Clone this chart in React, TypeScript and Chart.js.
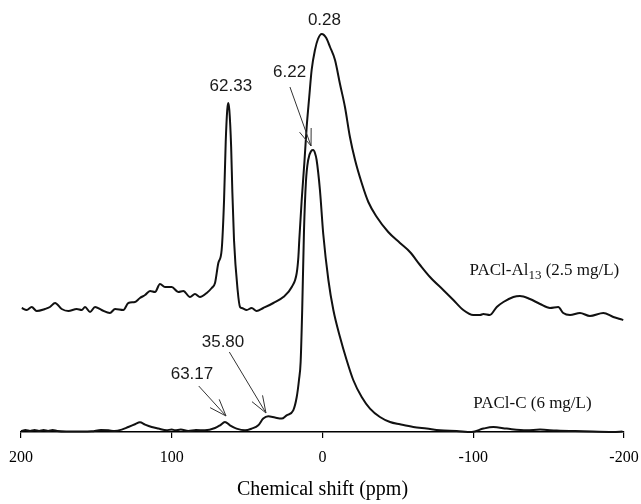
import React, { useEffect, useRef } from "react";
import { Chart, registerables } from "chart.js";

Chart.register(...registerables);

// Chemical shift (ppm) and intensity for PACl-Al13 (2.5 mg/L)
const upperPpm = [
  199.5, 196.2, 192.9, 189.6, 184.1, 180.8, 177.4, 173, 168.6, 163, 159.7, 157.5, 154.2, 150.9, 146.5, 141,
  137.6, 132.1, 128.8, 124.4, 121.1, 117.7, 114.4, 111.1, 107.8, 104.5, 100, 95.7, 92.3, 87.9, 84.6, 81.3,
  76.8, 73.5, 71.3, 69.1, 66.9, 65.3, 64.2, 63.2, 62.5, 61.8, 60.6, 59.8, 58.7, 56.3, 54.7, 53.6, 50.3, 47,
  43.7, 39.3, 32.6, 26, 20.4, 17.1, 16, 15.4, 13.8, 12, 10.5, 8.8, 7.2, 5, 3, 0.5, -2.5, -5, -8.3, -11.6,
  -14.9, -18.2, -21.6, -26, -30.4, -36, -43.6, -51.4, -58, -64.7, -71.3, -80.1, -86.8, -93.4, -100, -104.5,
  -106.7, -111, -115.6, -120, -126.6, -131, -137.6, -144.3, -150.9, -156.4, -159.7, -164.2, -170.8, -177.4,
  -186.3, -192.9, -197.4, -199.5,
];
const upperInt = [
  124, 122, 125, 121, 123, 125, 129, 123, 121, 123, 122, 125, 120, 125, 122, 119,
  123, 122, 129, 130, 134, 137, 141, 140, 148, 145, 145, 140, 141, 135, 138, 135,
  139, 144, 149, 169, 182, 232, 290, 322, 329, 322, 285, 240, 192, 142, 125, 124, 122, 124,
  121, 124, 129, 135, 145, 159, 175, 192, 232, 270, 305, 335, 362, 382, 393, 398, 394, 385, 372, 348,
  325, 295, 272, 249, 230, 215, 200, 189, 180, 167, 155, 142, 132, 122, 117, 117,
  118, 117, 125, 130, 135, 136, 133, 128, 124, 125, 119, 117, 119, 116,
  119, 115, 113, 112,
];

// Chemical shift (ppm) and intensity for PACl-C (6 mg/L)
const lowerPpm = [
  200, 197, 194, 191, 188, 185, 182, 179, 176, 170, 160, 153.1, 147, 142, 138, 133.2, 128.8, 124.4, 121.1,
  117.7, 113.3, 108.9, 103.4, 100, 97.8, 94, 89, 84, 78, 71.3, 68, 64.7, 61.4, 57, 51.4, 47, 42.6, 39.3, 36,
  31.5, 27.1, 23.8, 19.4, 17.1, 15.6, 14.5, 13.5, 12.3, 11, 9.5, 7.5, 6.2, 5, 3.9, 1.7, -0.5, -3.9, -7.2,
  -11.6, -16, -20.4, -26, -31.5, -38.1, -44.8, -51.4, -60.2, -69.1, -77.9, -89, -99, -106.7, -113.3, -122.2,
  -135.5, -144.3, -155.3, -173, -192.9, -199,
];
const lowerInt = [
  1, 2, 1, 2, 1, 2, 1, 2, 1, 0.5, 0.5, 0.7, 2, 1.7, 1, 2.4, 5, 7.7, 9.7,
  7.4, 5, 3.4, 1.7, 2.5, 1.7, 2.5, 1, 2, 1.7, 4, 6.7, 10, 6.7, 3.4, 1.7, 3.4, 6.7, 13.4, 15.7,
  14.4, 13.4, 16.7, 21.7, 35, 52, 70, 120, 200, 250, 272, 281, 282, 279, 272, 242, 198, 152, 122,
  95, 72, 52, 35, 23.4, 15, 10, 7.7, 5, 3.4, 1.7, 1, 0, 3.4, 5, 3.4,
  1.7, 2.4, 1.4, 0.7, 0, 0.5,
];

const xTickValues = [200, 100, 0, -100, -200];
const xTitle = "Chemical shift (ppm)";

// Peak labels: text, label position (ppm, intensity)
const peakTexts = ["0.28", "62.33", "6.22", "35.80", "63.17"];
const peakTextPpm = [-1.3, 60.8, 21.8, 66, 86.6];
const peakTextInt = [412, 346, 360, 90, 58];

// Arrows: from (ppm, intensity) to tip (ppm, intensity)
const arrowFromPpm = [21.6, 61.8, 82.1];
const arrowFromInt = [345, 80, 46];
const arrowToPpm = [7.6, 37.5, 64];
const arrowToInt = [286, 19, 16];

// Series labels: left end and baseline
const seriesNames = ["PACl-Al", "PACl-C (6 mg/L)"];
const seriesLabelPpm = [-97.5, -100];
const seriesLabelInt = [157, 23.7];

const toPoints = (xs: number[], ys: number[]) => xs.map((x, i) => ({ x, y: ys[i] }));

const annotationPlugin = {
  id: "nmrAnnotations",
  afterDatasetsDraw(chart: any) {
    const { ctx, scales } = chart;
    const xs = scales.x;
    const ys = scales.y;
    const px = (v: number) => xs.getPixelForValue(v);
    const py = (v: number) => ys.getPixelForValue(v);
    ctx.save();
    // peak labels
    ctx.fillStyle = "#1a1a1a";
    ctx.font = '17px "Liberation Sans", Arial, sans-serif';
    ctx.textAlign = "center";
    ctx.textBaseline = "middle";
    peakTexts.forEach((t, i) => {
      ctx.fillText(t, px(peakTextPpm[i]), py(peakTextInt[i]));
    });
    // arrows
    ctx.strokeStyle = "#333";
    ctx.lineWidth = 1;
    arrowFromPpm.forEach((_, i) => {
      const x0 = px(arrowFromPpm[i]);
      const y0 = py(arrowFromInt[i]);
      const x1 = px(arrowToPpm[i]);
      const y1 = py(arrowToInt[i]);
      const ang = Math.atan2(y1 - y0, x1 - x0);
      const head = 18;
      const spread = (20 * Math.PI) / 180;
      ctx.beginPath();
      ctx.moveTo(x0, y0);
      ctx.lineTo(x1, y1);
      ctx.moveTo(x1 - head * Math.cos(ang - spread), y1 - head * Math.sin(ang - spread));
      ctx.lineTo(x1, y1);
      ctx.lineTo(x1 - head * Math.cos(ang + spread), y1 - head * Math.sin(ang + spread));
      ctx.stroke();
    });
    // series labels
    ctx.fillStyle = "#111";
    ctx.textAlign = "left";
    ctx.textBaseline = "alphabetic";
    const big = '17px "Liberation Serif", "Times New Roman", serif';
    const small = '13px "Liberation Serif", "Times New Roman", serif';
    let x = px(seriesLabelPpm[0]);
    const y = py(seriesLabelInt[0]);
    ctx.font = big;
    ctx.fillText(seriesNames[0], x, y);
    x += ctx.measureText(seriesNames[0]).width;
    ctx.font = small;
    ctx.fillText("13", x, y + 4);
    x += ctx.measureText("13").width;
    ctx.font = big;
    ctx.fillText(" (2.5 mg/L)", x, y);
    ctx.fillText(seriesNames[1], px(seriesLabelPpm[1]), py(seriesLabelInt[1]));
    ctx.restore();
  },
};

export default function App() {
  const ref = useRef<HTMLCanvasElement | null>(null);
  useEffect(() => {
    if (!ref.current) return;
    const chart = new Chart(ref.current, {
      type: "line",
      data: {
        datasets: [
          {
            label: "PACl-Al13 (2.5 mg/L)",
            data: toPoints(upperPpm, upperInt),
            borderColor: "#111",
            borderWidth: 2,
            pointRadius: 0,
            cubicInterpolationMode: "monotone",
            clip: false as any,
          },
          {
            label: "PACl-C (6 mg/L)",
            data: toPoints(lowerPpm, lowerInt),
            borderColor: "#111",
            borderWidth: 2,
            pointRadius: 0,
            cubicInterpolationMode: "monotone",
            clip: false as any,
          },
        ],
      },
      options: {
        animation: false,
        responsive: false,
        maintainAspectRatio: false,
        layout: { padding: { left: 21, right: 17, top: 0, bottom: 0 } },
        plugins: { legend: { display: false }, tooltip: { enabled: false } },
        scales: {
          x: {
            type: "linear",
            reverse: true,
            min: -200,
            max: 200,
            afterBuildTicks: (scale: any) => {
              scale.ticks = xTickValues.map((v) => ({ value: v }));
            },
            afterFit: (scale: any) => {
              scale.height = 72;
              scale.paddingLeft = 0;
              scale.paddingRight = 0;
            },
            border: { display: true, color: "#000", width: 1.5 },
            grid: { drawOnChartArea: false, drawTicks: true, tickLength: 6, color: "#000", lineWidth: 1.2 },
            ticks: {
              color: "#000",
              padding: 10,
              maxRotation: 0,
              autoSkip: false,
              font: { family: '"Liberation Serif", "Times New Roman", serif', size: 16 },
              callback: (v: any) => String(v),
            },
            title: {
              display: true,
              text: xTitle,
              color: "#000",
              padding: { top: 0, bottom: 2 },
              font: { family: '"Liberation Serif", "Times New Roman", serif', size: 20 },
            },
          },
          y: { type: "linear", display: false, min: 0, max: 432 },
        },
      },
      plugins: [annotationPlugin],
    });
    return () => chart.destroy();
  }, []);
  return (
    <div style={{ position: "fixed", left: 0, top: 0, width: 641, height: 504, background: "#fff" }}>
      <canvas ref={ref} width={641} height={504} style={{ width: 641, height: 504, display: "block" }} />
    </div>
  );
}
